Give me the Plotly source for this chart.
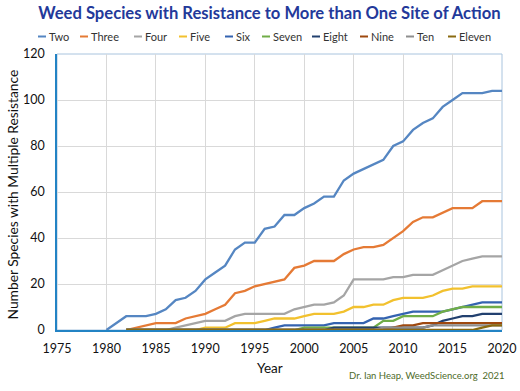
import plotly.graph_objects as go

years = list(range(1975, 2021))

def pad(start, vals):
    return [None] * (start - 1975) + vals

two = pad(1980, [0, 3, 6, 6, 6, 7, 9, 13, 14, 17, 22, 25, 28, 35, 38, 38, 44, 45, 50, 50,
                 53, 55, 58, 58, 65, 68, 70, 72, 74, 80, 82, 87, 90, 92, 97, 100, 103, 103, 103, 104, 104])
three = pad(1982, [0, 1, 2, 3, 3, 3, 5, 6, 7, 9, 11, 16, 17, 19, 20, 21, 22, 27, 28, 30,
                   30, 30, 33, 35, 36, 36, 37, 40, 43, 47, 49, 49, 51, 53, 53, 53, 56, 56, 56])
four = pad(1982, [0, 0, 0, 0, 0, 1, 2, 3, 4, 4, 4, 6, 7, 7, 7, 7, 7, 9, 10, 11,
                  11, 12, 15, 22, 22, 22, 22, 23, 23, 24, 24, 24, 26, 28, 30, 31, 32, 32, 32])
five = pad(1982, [0, 0, 0, 0, 0, 0, 0, 0, 1, 1, 1, 3, 3, 3, 4, 5, 5, 5, 6, 7,
                  7, 7, 8, 10, 10, 11, 11, 13, 14, 14, 14, 15, 17, 18, 18, 19, 19, 19, 19])
six = pad(1982, [0, 0, 0, 0, 0, 0, 0, 0, 0, 0, 0, 0, 0, 0, 0, 1, 2, 2, 2, 2,
                 2, 3, 3, 3, 3, 5, 5, 6, 7, 8, 8, 8, 8, 9, 10, 11, 12, 12, 12])
seven = pad(1982, [0, 0, 0, 0, 0, 0, 0, 0, 0, 0, 0, 0, 0, 0, 0, 0, 0, 0, 1, 1,
                   1, 1, 1, 1, 1, 1, 4, 4, 6, 6, 6, 6, 8, 9, 10, 10, 10, 10, 10])
eight = pad(1982, [0, 0, 0, 0, 0, 0, 0, 0, 0, 0, 0, 0, 0, 0, 0, 0, 0, 0, 0, 0,
                   0, 1, 1, 1, 1, 1, 1, 1, 1, 1, 1, 2, 4, 5, 6, 6, 7, 7, 7])
nine = pad(1982, [0, 0, 0, 0, 0, 0, 0, 0, 0, 0, 0, 0, 0, 0, 0, 0, 0, 0, 0, 0,
                  0, 0, 0, 0, 0, 0, 0, 1, 2, 2, 3, 3, 3, 3, 3, 3, 3, 3, 3])
ten = pad(1982, [0, 0, 0, 0, 0, 0, 0, 0, 0, 0, 0, 0, 0, 0, 0, 0, 0, 0, 0, 0,
                 0, 0, 0, 0, 0, 0, 1, 1, 1, 1, 1, 2, 2, 2, 2, 2, 2, 2, 2])
eleven = pad(1982, [0, 0, 0, 0, 0, 0, 0, 0, 0, 0, 0, 0, 0, 0, 0, 0, 0, 0, 0, 0,
                    0, 0, 0, 0, 0, 0, 0, 0, 0, 0, 0, 0, 0, 0, 0, 0, 1, 2, 2])

names = ["Two", "Three", "Four", "Five", "Six", "Seven", "Eight", "Nine", "Ten", "Eleven"]
series = [two, three, four, five, six, seven, eight, nine, ten, eleven]
colors = ["#5586C2", "#E57A35", "#A5A5A5", "#F2C12E", "#3463B0", "#70AD47",
          "#22406F", "#9E480E", "#8F8F8F", "#8A6A10"]

x_ticks = list(range(1975, 2021, 5))
y_ticks = list(range(0, 121, 20))

FONT = "Lato, Carlito, Open Sans, sans-serif"

W, H = 520, 391
left, top, right, bottom = 57, 54, 502, 330
plot_w, plot_h = right - left, bottom - top

def px(xp):
    return (xp - left) / plot_w

def py(yp):
    return (bottom - yp) / plot_h

fig = go.Figure()
for name, vals, col in zip(names, series, colors):
    fig.add_trace(go.Scatter(x=years, y=vals, name=name, mode="lines",
                             line=dict(color=col, width=2.3), showlegend=False))

fig.update_layout(
    width=W, height=H,
    margin=dict(l=left, r=W - right, t=top, b=H - bottom, autoexpand=False),
    paper_bgcolor="white", plot_bgcolor="white",
    font=dict(family=FONT, color="#111", size=12),
    title=dict(text="<b>Weed Species with Resistance to More than One Site of Action</b>",
               x=269.5 / W, xanchor="center", y=1 - 13.5 / H, yanchor="middle",
               font=dict(size=16.6, color="#23399A", family=FONT)),
    showlegend=False,
)
fig.update_xaxes(range=[1975, 2020], tickvals=x_ticks, showgrid=True, gridcolor="#D9D9D9",
                 gridwidth=1, zeroline=False, showline=True, linecolor="#2383C4", linewidth=1.5,
                 ticks="", ticklabelstandoff=6, tickfont=dict(size=12.5, color="#111"))
fig.update_yaxes(range=[0, 120], tickvals=y_ticks, showgrid=True, gridcolor="#D9D9D9",
                 gridwidth=1, zeroline=False, showline=True, linecolor="#2383C4", linewidth=1.5,
                 ticks="", ticklabelstandoff=8, tickfont=dict(size=12.5, color="#111"))
fig.add_shape(type="rect", xref="paper", yref="paper", x0=0, x1=1, y0=0, y1=1,
              line=dict(color="#A9C4DE", width=1), layer="below")

# axis titles
fig.add_annotation(text="Number Species with Multiple Resistance", xref="paper", yref="paper",
                   x=px(11.5), y=py(195), textangle=-90, xanchor="center", yanchor="middle",
                   showarrow=False, font=dict(size=13.8, color="#111", family=FONT))
fig.add_annotation(text="Year", xref="paper", yref="paper", x=px(270), y=py(368),
                   xanchor="center", yanchor="middle", showarrow=False,
                   font=dict(size=13.5, color="#111", family=FONT))

# custom single-row legend (Excel style: short line + label)
leg_line_x = [38, 80, 134, 179, 225, 262, 312, 360, 406, 448]
leg_y = py(36.5)
for name, col, lx in zip(names, colors, leg_line_x):
    fig.add_shape(type="line", xref="paper", yref="paper", x0=px(lx), x1=px(lx + 8),
                  y0=leg_y, y1=leg_y, line=dict(color=col, width=2))
    fig.add_annotation(text=name, xref="paper", yref="paper", x=px(lx + 9),
                       y=leg_y, xanchor="left", yanchor="middle", showarrow=False,
                       font=dict(size=11, color="#333", family=FONT))

fig.add_annotation(text="Dr. Ian Heap, WeedScience.org  2021", xref="paper", yref="paper",
                   x=px(507), y=py(375), xanchor="right", yanchor="middle", showarrow=False,
                   font=dict(size=9.5, color="#4E6B2A", family=FONT))

# remove the browser's default 8px body margin so the figure fills the window exactly
fig.write_html("out.html", config={"displayModeBar": False},
               post_script="document.body.style.margin='0';")
